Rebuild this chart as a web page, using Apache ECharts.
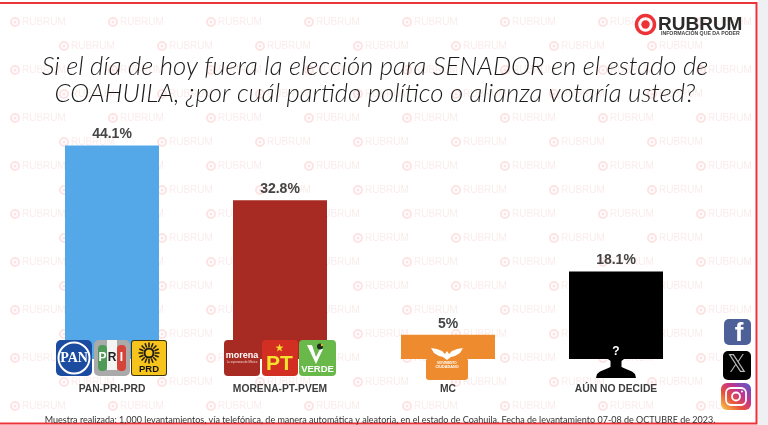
<!DOCTYPE html>
<html><head><meta charset="utf-8">
<style>html,body{margin:0;padding:0;background:#fff}#c{width:768px;height:425px}</style>
<script src="https://cdn.jsdelivr.net/npm/echarts@6/dist/echarts.min.js"></script></head>
<body><div id="c"></div>
<script>
const categories = ['PAN-PRI-PRD','MORENA-PT-PVEM','MC','AÚN NO DECIDE'];
const values = [44.1,32.8,5,18.1];
const barColors = ['#55a8e8','#a72b22','#ee8b2e','#000000'];
const titleLines = ['Si el día de hoy fuera la elección para SENADOR en el estado de','COAHUILA, ¿por cuál partido político o alianza votaría usted?'];
const footnote = 'Muestra realizada: 1,000 levantamientos, vía telefónica, de manera automática y aleatoria, en el estado de Coahuila. Fecha de levantamiento 07-08 de OCTUBRE de 2023.';

const Z = 20;
const zz = z => z === undefined ? Z : z;
const rect = (x,y,w,h,fill,r,z) => ({type:'rect',z:zz(z),silent:true,shape:{x,y,width:w,height:h,r:r||0},style:{fill}});
const circ = (cx,cy,r,fill,stroke,lw,z) => ({type:'circle',z:zz(z),silent:true,shape:{cx,cy,r},style:{fill:fill||'transparent',stroke:stroke||null,lineWidth:lw||0}});
const txt = (x,y,t,font,fill,align,z) => ({type:'text',z:zz(z),silent:true,x,y,style:{text:t,font,fill,align:align||'center',verticalAlign:'middle'}});
const poly = (points,fill,z) => ({type:'polygon',z:zz(z),silent:true,shape:{points},style:{fill}});

const g = [];
// watermark
for(let row=0;row<17;row++){
  const y=22+24*row, x0=row%2?64:15;
  for(let k=0;k<8;k++){
    const x=x0+98*k;
    if(x>735) continue;
    g.push(circ(x,y,4,null,'#fde3e3',2,0));
    g.push(circ(x,y,1.6,'#fde3e3',null,0,0));
    g.push(txt(x+7,y,'RUBRUM','10px "Liberation Sans"','#fbecec','left',0));
  }
}
// page frame
g.push(rect(758,0,10,425,'#eef0f3',0,0));
g.push({type:'rect',z:1,silent:true,shape:{x:-4,y:3,width:760.5,height:420.5},style:{fill:'transparent',stroke:'#ee3338',lineWidth:2}});
// brand
g.push(circ(645.5,24.5,9,null,'#ee3338',3.5));
g.push(circ(645.5,24.5,4.2,'#ee3338'));
g.push(txt(658,25,'RUBRUM','bold 19px "Liberation Sans"','#2b2b2b','left'));
g.push(txt(661,33.5,'INFORMACIÓN QUE DA PODER','bold 5.2px "Liberation Sans"','#444','left'));
// title
titleLines.forEach((t,i)=>g.push(txt(375,i?94:67,t,'italic 300 25.7px Lato','#1a1a1a','center',5)));
g.push(txt(380,420,footnote,'9px Lato','#333','center',5));
// PAN
g.push(rect(56,340,36,36,'#1c4c9f',5));
g.push(circ(74,358,15.5,'#1c4c9f','#fff',2));
g.push(txt(74,358.5,'PAN','bold 14px "Liberation Sans Narrow"','#fff'));
// PRI
g.push(rect(94,340,36,36,'#aaaaaa',5));
g.push(rect(98,345,9,26,'#4f9a58',4));
g.push(rect(107,340,10,30,'#f4f4f4',0));
g.push(rect(117,345,9,26,'#d4443a',4));
g.push(txt(102.5,358,'P','bold 12px "Liberation Sans"','#fff'));
g.push(txt(112,358,'R','bold 12px "Liberation Sans"','#222'));
g.push(txt(121.5,358,'I','bold 12px "Liberation Sans"','#fff'));
// PRD
g.push(rect(131,340,36,36,'#3d3212',3));
g.push(rect(132,341,34,34,'#f6c41c',2));
for(let a=0;a<16;a++){
  const t=a*Math.PI/8;
  g.push({type:'line',z:Z,silent:true,shape:{x1:149+6*Math.cos(t),y1:353+6*Math.sin(t),x2:149+10.5*Math.cos(t),y2:353+10.5*Math.sin(t)},style:{stroke:'#1d1a10',lineWidth:1.5}});
}
g.push(circ(149,353,4.5,null,'#1d1a10',2));
g.push(txt(149,369.5,'PRD','bold 9.5px "Liberation Sans"','#111'));
// morena
g.push(rect(224,340,36,36,'#a72b22',4));
g.push(txt(242,355.5,'morena','bold 9px "Liberation Sans"','#fff'));
g.push(txt(242,362,'La esperanza de México','2.8px "Liberation Sans"','#f1d0cc'));
// PT
g.push(rect(262,340,36,36,'#d22f22',4));
g.push(poly([0,1,2,3,4,5,6,7,8,9].map(i=>{const r=i%2?1.7:4.2,t=-Math.PI/2+i*Math.PI/5;return [279.5+r*Math.cos(t),348+r*Math.sin(t)];}),'#f4d92a'));
g.push(txt(279.5,364,'PT','bold 21px "Liberation Sans"','#f4e32e'));
// VERDE
g.push(rect(299,340,37,36,'#68b94a',4));
g.push(poly([[307,345],[312,345],[316,357],[320,349],[323,349],[316,364]],'#fff'));
g.push(circ(320,346.5,3,'#1c2b1e'));
g.push(circ(322,345,1.2,'#e8b32a'));
g.push(txt(317.5,369.5,'VERDE','bold 9.5px "Liberation Sans"','#fff'));
// MC lower tab and eagle
g.push(rect(426,358,42,22,'#ee8b2e',3,3));
g.push(poly([[431,348],[437,349],[442,351],[445,354],[447,351],[449,354],[452,351],[457,349],[463,348],[460,353],[455,356],[451,357],[447,360],[443,357],[439,356],[434,353]],'#fff'));
g.push(txt(447,363.5,'MOVIMIENTO','bold 3px "Liberation Sans"','#fff'));
g.push(txt(447,367,'CIUDADANO','bold 3.8px "Liberation Sans"','#fff'));
// undecided silhouette
g.push(circ(616,352,10.5,'#000',null,0,3));
g.push(rect(610.5,358,11,12,'#000',0,3));
g.push(poly([[610.5,367],[621.5,367],[626,369],[632,371.5],[635,374],[636,378],[596,378],[597,374],[600,371.5],[606,369]],'#000',3));
g.push(txt(616,351.5,'?','bold 12px "Liberation Sans"','#fff','center',21));
// social
g.push(rect(724,319,27,26,'#4d6098',5));
g.push(txt(739,334,'f','bold 26px "Liberation Sans"','#fff'));
g.push(rect(723,351,28,29,'#000',5));
g.push(txt(737,365.5,'𝕏','24px "DejaVu Sans"','#b8b8b8'));
g.push({type:'rect',z:Z,silent:true,shape:{x:721,y:383,width:30,height:27,r:6},style:{fill:new echarts.graphic.LinearGradient(0.1,1,0.9,0,[{offset:0,color:'#f5c04a'},{offset:0.35,color:'#e8503c'},{offset:0.65,color:'#c1358f'},{offset:1,color:'#5c55c8'}])}});
g.push({type:'rect',z:Z,silent:true,shape:{x:726,y:388,width:20,height:17,r:5},style:{fill:'transparent',stroke:'#fff',lineWidth:1.8}});
g.push(circ(736,396.5,4,null,'#fff',1.8));
g.push(circ(742,391.5,1,'#fff'));

const chart = echarts.init(document.getElementById('c'),null,{renderer:'canvas'});
chart.setOption({
  animation:false,
  backgroundColor:'#fff',
  grid:{left:28,width:672,top:117,bottom:66},
  xAxis:{type:'category',data:categories,axisLine:{show:false},axisTick:{show:false},
    axisLabel:{margin:23,interval:0,color:'#3d3d3d',fontFamily:'Liberation Sans',fontWeight:'bold',fontSize:10.3,lineHeight:14}},
  yAxis:{type:'value',min:0,max:50,show:false},
  series:[{type:'bar',barWidth:94,z:2,
    data:values.map((v,i)=>({value:v,itemStyle:{color:barColors[i]}})),
    label:{show:true,position:'top',distance:4,color:'#444',fontFamily:'Liberation Sans',fontWeight:'bold',fontSize:14,formatter:p=>p.value+'%'}}],
  graphic:{elements:g}
});
</script></body></html>
